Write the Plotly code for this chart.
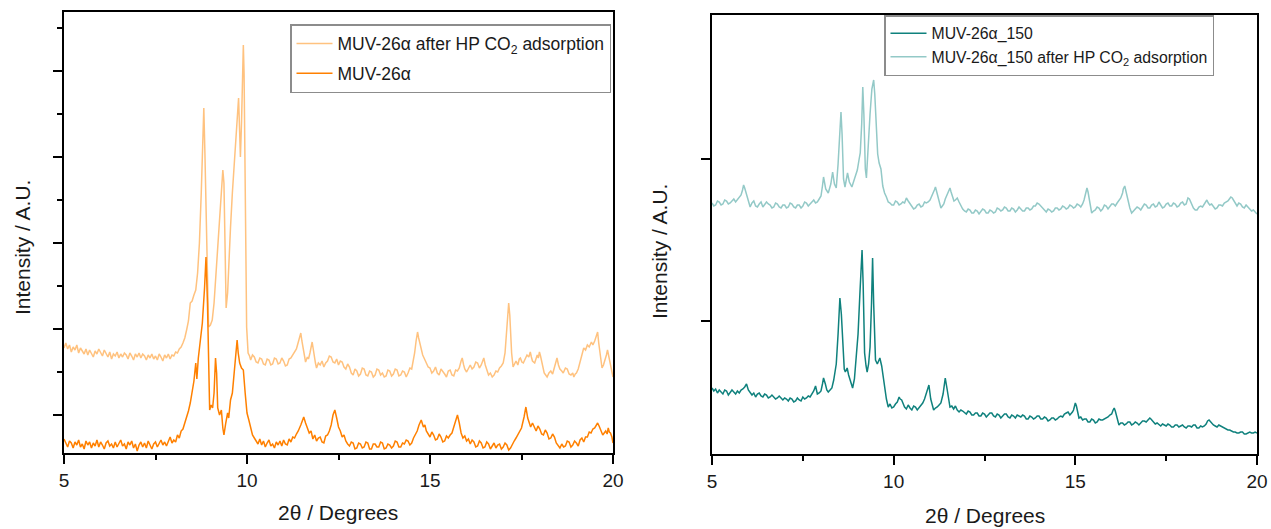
import plotly.graph_objects as go

# Diffraction patterns as (2θ in degrees, intensity in a.u.) pairs.

# MUV-26α
muv = [
    (5.00, 14), (5.05, 9), (5.10, 6), (5.15, 12), (5.20, 10), (5.25, 5), (5.30, 11), (5.35, 8), (5.40, 13),
    (5.45, 6), (5.50, 9), (5.55, 4), (5.60, 12), (5.65, 8), (5.70, 11), (5.75, 5), (5.80, 10), (5.85, 7),
    (5.90, 13), (5.95, 6), (6.00, 11), (6.05, 8), (6.10, 4), (6.15, 10), (6.20, 12), (6.25, 7), (6.30, 9),
    (6.35, 5), (6.40, 11), (6.45, 6), (6.50, 10), (6.55, 13), (6.60, 7), (6.65, 9), (6.70, 4), (6.75, 11),
    (6.80, 8), (6.85, 12), (6.90, 5), (6.95, 9), (7.00, 2), (7.05, 8), (7.10, 11), (7.15, 6), (7.20, 10),
    (7.25, 5), (7.30, 12), (7.35, 7), (7.40, 4), (7.45, 9), (7.50, 11), (7.55, 6), (7.60, 10), (7.65, 13),
    (7.70, 8), (7.75, 11), (7.80, 7), (7.85, 12), (7.90, 16), (7.95, 10), (8.00, 13), (8.05, 11), (8.10, 18),
    (8.15, 15), (8.20, 22), (8.25, 24), (8.30, 30), (8.35, 35), (8.40, 42), (8.45, 50), (8.50, 60), (8.55, 72),
    (8.60, 90), (8.63, 74), (8.67, 95), (8.72, 110), (8.78, 130), (8.84, 165), (8.88, 196), (8.92, 150),
    (8.95, 80), (8.98, 43), (9.02, 48), (9.06, 45), (9.10, 60), (9.14, 95), (9.17, 80), (9.20, 45), (9.25, 38),
    (9.30, 43), (9.34, 25), (9.37, 18), (9.42, 30), (9.47, 40), (9.50, 35), (9.55, 53), (9.60, 60), (9.65, 80),
    (9.70, 100), (9.73, 113), (9.76, 100), (9.80, 90), (9.85, 85), (9.90, 83), (9.95, 60), (10.00, 40),
    (10.05, 33), (10.10, 25), (10.15, 18), (10.20, 15), (10.25, 12), (10.30, 9), (10.35, 14), (10.40, 8),
    (10.45, 12), (10.50, 6), (10.55, 10), (10.60, 13), (10.65, 7), (10.70, 9), (10.75, 5), (10.80, 11),
    (10.85, 8), (10.90, 12), (10.95, 7), (11.00, 13), (11.05, 9), (11.10, 8), (11.15, 14), (11.20, 11),
    (11.25, 16), (11.30, 15), (11.35, 19), (11.40, 22), (11.47, 28), (11.55, 36), (11.60, 30), (11.65, 25),
    (11.70, 20), (11.75, 22), (11.80, 14), (11.85, 18), (11.90, 12), (11.95, 15), (12.00, 16), (12.05, 11),
    (12.10, 10), (12.15, 17), (12.20, 18), (12.25, 22), (12.30, 28), (12.35, 38), (12.40, 43), (12.45, 35),
    (12.50, 26), (12.55, 22), (12.60, 16), (12.65, 18), (12.70, 12), (12.75, 9), (12.80, 7), (12.85, 11),
    (12.90, 10), (12.95, 4), (13.00, 5), (13.05, 10), (13.10, 9), (13.15, 5), (13.20, 6), (13.25, 11),
    (13.30, 10), (13.35, 4), (13.40, 4), (13.45, 9), (13.50, 9), (13.55, 6), (13.60, 6), (13.65, 11),
    (13.70, 10), (13.75, 4), (13.80, 5), (13.85, 9), (13.90, 8), (13.95, 5), (14.00, 7), (14.05, 12),
    (14.10, 11), (14.15, 6), (14.20, 6), (14.25, 10), (14.30, 9), (14.35, 13), (14.40, 12), (14.45, 8),
    (14.50, 10), (14.55, 15), (14.60, 18), (14.65, 22), (14.70, 28), (14.76, 33), (14.82, 26), (14.86, 28),
    (14.90, 22), (14.95, 19), (15.00, 16), (15.05, 21), (15.10, 18), (15.15, 13), (15.20, 14), (15.25, 19),
    (15.30, 16), (15.35, 11), (15.40, 12), (15.45, 17), (15.50, 15), (15.55, 18), (15.60, 20), (15.65, 26),
    (15.70, 32), (15.75, 38), (15.80, 30), (15.85, 20), (15.90, 15), (15.95, 17), (16.00, 12), (16.05, 14),
    (16.10, 9), (16.15, 13), (16.20, 11), (16.25, 6), (16.30, 7), (16.35, 12), (16.40, 10), (16.45, 5),
    (16.50, 6), (16.55, 11), (16.60, 9), (16.65, 4), (16.70, 7), (16.75, 10), (16.80, 5), (16.85, 8),
    (16.90, 9), (16.95, 4), (17.00, 6), (17.05, 10), (17.10, 8), (17.15, 3), (17.20, 5), (17.25, 9),
    (17.30, 12), (17.35, 15), (17.40, 18), (17.45, 22), (17.50, 25), (17.57, 36), (17.62, 46), (17.67, 35),
    (17.72, 30), (17.75, 26), (17.80, 30), (17.85, 25), (17.90, 22), (17.95, 27), (18.00, 24), (18.05, 19),
    (18.10, 18), (18.15, 23), (18.20, 20), (18.25, 14), (18.30, 15), (18.35, 19), (18.40, 16), (18.45, 10),
    (18.50, 8), (18.55, 5), (18.60, 9), (18.65, 6), (18.70, 7), (18.75, 12), (18.80, 11), (18.85, 6),
    (18.90, 8), (18.95, 12), (19.00, 10), (19.05, 7), (19.10, 13), (19.15, 15), (19.20, 11), (19.25, 16),
    (19.30, 16), (19.35, 21), (19.40, 20), (19.45, 24), (19.50, 25), (19.55, 28), (19.58, 30), (19.62, 27),
    (19.65, 24), (19.70, 21), (19.72, 18), (19.76, 20), (19.80, 22), (19.84, 19), (19.87, 25), (19.90, 21),
    (19.93, 20), (19.97, 16), (20.00, 10),
]

# MUV-26α after HP CO2 adsorption
muv_co2 = [
    (5.00, 105), (5.05, 110), (5.10, 104), (5.15, 108), (5.20, 101), (5.25, 106), (5.30, 103), (5.35, 108),
    (5.40, 100), (5.45, 105), (5.50, 102), (5.55, 99), (5.60, 104), (5.65, 98), (5.70, 103), (5.75, 100),
    (5.80, 96), (5.85, 102), (5.90, 99), (5.95, 104), (6.00, 101), (6.05, 97), (6.10, 103), (6.15, 99),
    (6.20, 96), (6.25, 101), (6.30, 94), (6.35, 99), (6.40, 97), (6.45, 101), (6.50, 95), (6.55, 99),
    (6.60, 96), (6.65, 100), (6.70, 98), (6.75, 94), (6.80, 100), (6.85, 97), (6.90, 93), (6.95, 99),
    (7.00, 96), (7.05, 100), (7.10, 95), (7.15, 99), (7.20, 97), (7.25, 93), (7.30, 98), (7.35, 95),
    (7.40, 99), (7.45, 94), (7.50, 97), (7.55, 93), (7.60, 99), (7.65, 96), (7.70, 92), (7.75, 98),
    (7.80, 95), (7.85, 99), (7.90, 94), (7.95, 98), (8.00, 97), (8.05, 101), (8.10, 100), (8.15, 104),
    (8.20, 106), (8.25, 110), (8.30, 115), (8.35, 123), (8.40, 132), (8.45, 150), (8.50, 152), (8.55, 158),
    (8.60, 163), (8.65, 180), (8.70, 210), (8.75, 260), (8.80, 330), (8.82, 345), (8.85, 300), (8.88, 243),
    (8.92, 170), (8.95, 126), (9.00, 128), (9.05, 133), (9.10, 150), (9.15, 180), (9.20, 210), (9.25, 235),
    (9.30, 260), (9.34, 283), (9.37, 270), (9.40, 200), (9.43, 145), (9.47, 160), (9.50, 190), (9.55, 226),
    (9.60, 260), (9.66, 296), (9.70, 315), (9.72, 323), (9.75, 340), (9.77, 355), (9.80, 320), (9.82, 296),
    (9.85, 330), (9.88, 380), (9.90, 408), (9.92, 380), (9.95, 276), (9.97, 180), (9.99, 126), (10.03, 100),
    (10.07, 97), (10.10, 93), (10.15, 98), (10.20, 96), (10.25, 91), (10.30, 90), (10.35, 95), (10.40, 94),
    (10.45, 89), (10.50, 88), (10.55, 94), (10.60, 93), (10.65, 88), (10.70, 89), (10.75, 95), (10.80, 94),
    (10.85, 89), (10.90, 90), (10.95, 95), (11.00, 92), (11.05, 87), (11.10, 88), (11.15, 94), (11.20, 95),
    (11.25, 98), (11.30, 100), (11.35, 104), (11.38, 108), (11.43, 114), (11.47, 120), (11.50, 112),
    (11.53, 105), (11.57, 96), (11.60, 91), (11.65, 96), (11.68, 94), (11.72, 100), (11.75, 106),
    (11.78, 111), (11.81, 104), (11.83, 98), (11.87, 90), (11.90, 85), (11.95, 90), (12.00, 88), (12.05, 92),
    (12.10, 86), (12.15, 90), (12.20, 92), (12.25, 97), (12.30, 96), (12.35, 91), (12.40, 90), (12.45, 94),
    (12.50, 88), (12.55, 92), (12.60, 91), (12.65, 86), (12.70, 84), (12.75, 89), (12.80, 86), (12.85, 80),
    (12.90, 78), (12.95, 84), (13.00, 82), (13.05, 77), (13.10, 79), (13.15, 85), (13.20, 84), (13.25, 78),
    (13.30, 77), (13.35, 82), (13.40, 81), (13.45, 76), (13.50, 78), (13.55, 84), (13.60, 83), (13.65, 78),
    (13.70, 80), (13.75, 76), (13.80, 77), (13.85, 83), (13.90, 82), (13.95, 77), (14.00, 79), (14.05, 84),
    (14.10, 83), (14.15, 77), (14.20, 78), (14.25, 82), (14.30, 81), (14.35, 76), (14.40, 80), (14.45, 85),
    (14.50, 84), (14.55, 92), (14.58, 100), (14.62, 112), (14.66, 121), (14.69, 115), (14.72, 110),
    (14.76, 104), (14.80, 98), (14.85, 94), (14.90, 90), (14.95, 86), (15.00, 85), (15.05, 80), (15.10, 82),
    (15.15, 86), (15.20, 80), (15.25, 78), (15.30, 84), (15.35, 82), (15.40, 79), (15.45, 76), (15.50, 82),
    (15.55, 83), (15.60, 78), (15.65, 77), (15.70, 83), (15.75, 82), (15.80, 85), (15.85, 92), (15.88, 95),
    (15.92, 88), (15.95, 84), (16.00, 81), (16.05, 85), (16.10, 88), (16.15, 84), (16.20, 86), (16.25, 91),
    (16.30, 90), (16.35, 85), (16.40, 88), (16.44, 92), (16.47, 95), (16.51, 88), (16.55, 84), (16.60, 78),
    (16.65, 80), (16.70, 76), (16.75, 78), (16.80, 82), (16.85, 81), (16.90, 85), (16.95, 87), (17.00, 90),
    (17.05, 100), (17.10, 125), (17.13, 142), (17.15, 150), (17.18, 138), (17.20, 120), (17.23, 100),
    (17.27, 86), (17.31, 90), (17.35, 92), (17.40, 88), (17.44, 94), (17.47, 95), (17.51, 91), (17.55, 90),
    (17.60, 94), (17.65, 98), (17.70, 96), (17.74, 101), (17.77, 96), (17.80, 92), (17.86, 90), (17.90, 95),
    (17.93, 98), (17.96, 95), (17.99, 101), (18.02, 97), (18.05, 92), (18.09, 85), (18.12, 80), (18.16, 78),
    (18.20, 76), (18.25, 80), (18.30, 82), (18.35, 79), (18.40, 85), (18.44, 90), (18.47, 95), (18.51, 88),
    (18.55, 84), (18.60, 82), (18.64, 80), (18.70, 85), (18.75, 84), (18.80, 79), (18.85, 78), (18.90, 80),
    (18.93, 76), (18.97, 79), (19.00, 80), (19.05, 84), (19.10, 90), (19.15, 98), (19.20, 105), (19.25, 103),
    (19.30, 108), (19.35, 106), (19.41, 111), (19.45, 108), (19.50, 112), (19.54, 116), (19.58, 121),
    (19.61, 110), (19.64, 100), (19.67, 92), (19.70, 85), (19.74, 88), (19.78, 92), (19.82, 98), (19.85, 103),
    (19.88, 97), (19.92, 90), (19.96, 82), (20.00, 76),
]

# MUV-26α_150
m150 = [
    (5.00, 66), (5.05, 63), (5.10, 65), (5.15, 61), (5.20, 64), (5.25, 62), (5.30, 60), (5.35, 64), (5.40, 63),
    (5.45, 59), (5.50, 61), (5.55, 64), (5.60, 62), (5.65, 60), (5.70, 63), (5.75, 61), (5.80, 64), (5.85, 65),
    (5.90, 67), (5.95, 70), (6.00, 64), (6.05, 62), (6.10, 59), (6.15, 61), (6.20, 57), (6.25, 60), (6.30, 61),
    (6.35, 58), (6.40, 57), (6.45, 60), (6.50, 59), (6.55, 56), (6.60, 57), (6.65, 59), (6.70, 57), (6.75, 55),
    (6.80, 56), (6.85, 58), (6.90, 56), (6.95, 54), (7.00, 56), (7.05, 55), (7.10, 53), (7.15, 56), (7.20, 55),
    (7.25, 52), (7.30, 53), (7.35, 56), (7.40, 54), (7.45, 53), (7.50, 57), (7.55, 55), (7.60, 56), (7.65, 58),
    (7.70, 57), (7.75, 60), (7.80, 63), (7.85, 68), (7.90, 60), (7.95, 61), (8.00, 63), (8.04, 70), (8.07, 76),
    (8.12, 70), (8.16, 64), (8.20, 62), (8.25, 64), (8.30, 66), (8.35, 74), (8.42, 90), (8.47, 120),
    (8.52, 156), (8.56, 140), (8.60, 104), (8.64, 85), (8.67, 82), (8.72, 86), (8.76, 79), (8.82, 72),
    (8.87, 66), (8.92, 75), (8.97, 95), (9.02, 120), (9.07, 160), (9.10, 185), (9.13, 204), (9.16, 170),
    (9.20, 101), (9.24, 88), (9.27, 82), (9.31, 90), (9.35, 107), (9.39, 150), (9.42, 196), (9.45, 150),
    (9.50, 94), (9.55, 90), (9.62, 96), (9.67, 88), (9.72, 75), (9.75, 67), (9.80, 55), (9.85, 47), (9.90, 50),
    (9.95, 46), (10.00, 47), (10.05, 50), (10.10, 52), (10.15, 57), (10.18, 55), (10.22, 54), (10.26, 50),
    (10.30, 47), (10.35, 45), (10.40, 49), (10.45, 46), (10.50, 44), (10.55, 48), (10.60, 47), (10.65, 44),
    (10.70, 46), (10.75, 49), (10.80, 51), (10.85, 55), (10.92, 62), (10.97, 69), (11.02, 55), (11.06, 48),
    (11.10, 44), (11.15, 46), (11.20, 47), (11.25, 49), (11.30, 51), (11.36, 60), (11.42, 76), (11.47, 65),
    (11.51, 55), (11.55, 47), (11.60, 48), (11.65, 45), (11.70, 48), (11.75, 44), (11.80, 42), (11.85, 44),
    (11.90, 43), (11.95, 41), (12.00, 40), (12.05, 43), (12.10, 42), (12.15, 39), (12.20, 39), (12.25, 41),
    (12.30, 41), (12.35, 38), (12.40, 38), (12.45, 41), (12.50, 40), (12.55, 37), (12.60, 39), (12.65, 41),
    (12.70, 41), (12.75, 38), (12.80, 37), (12.85, 40), (12.90, 39), (12.95, 36), (13.00, 38), (13.05, 40),
    (13.10, 40), (13.15, 37), (13.20, 36), (13.25, 39), (13.30, 38), (13.35, 36), (13.40, 39), (13.45, 38),
    (13.50, 37), (13.55, 39), (13.60, 38), (13.65, 35), (13.70, 35), (13.75, 38), (13.80, 37), (13.85, 35),
    (13.90, 36), (13.95, 38), (14.00, 38), (14.05, 35), (14.10, 35), (14.15, 37), (14.20, 36), (14.25, 33),
    (14.30, 34), (14.35, 36), (14.40, 36), (14.45, 34), (14.50, 35), (14.55, 37), (14.60, 38), (14.65, 37),
    (14.70, 40), (14.75, 41), (14.80, 42), (14.85, 39), (14.88, 40), (14.92, 42), (14.95, 44), (15.00, 51),
    (15.03, 48), (15.05, 45), (15.10, 36), (15.15, 37), (15.20, 34), (15.25, 35), (15.30, 35), (15.35, 32),
    (15.40, 32), (15.45, 35), (15.50, 34), (15.55, 31), (15.60, 32), (15.65, 35), (15.70, 34), (15.75, 34),
    (15.80, 35), (15.85, 36), (15.90, 37), (15.95, 39), (16.00, 40), (16.04, 44), (16.07, 46), (16.10, 43),
    (16.12, 40), (16.16, 34), (16.20, 29), (16.25, 31), (16.30, 31), (16.35, 29), (16.40, 30), (16.45, 32),
    (16.50, 32), (16.55, 29), (16.60, 30), (16.65, 32), (16.70, 31), (16.75, 29), (16.80, 31), (16.85, 33),
    (16.90, 33), (16.95, 32), (17.00, 34), (17.05, 36), (17.08, 35), (17.12, 33), (17.16, 31), (17.20, 30),
    (17.25, 31), (17.30, 29), (17.35, 28), (17.40, 30), (17.45, 29), (17.50, 28), (17.55, 30), (17.60, 29),
    (17.65, 27), (17.70, 27), (17.75, 29), (17.80, 29), (17.85, 27), (17.90, 28), (17.95, 29), (18.00, 27),
    (18.05, 26), (18.10, 28), (18.15, 28), (18.20, 27), (18.25, 29), (18.30, 29), (18.35, 26), (18.40, 26),
    (18.45, 28), (18.50, 27), (18.55, 28), (18.60, 30), (18.64, 33), (18.68, 34), (18.72, 32), (18.75, 31),
    (18.80, 29), (18.85, 28), (18.90, 27), (18.95, 29), (19.00, 28), (19.05, 27), (19.10, 26), (19.15, 25),
    (19.20, 24), (19.25, 24), (19.30, 23), (19.35, 22), (19.40, 22), (19.45, 21), (19.50, 21), (19.55, 22),
    (19.60, 22), (19.65, 20), (19.70, 20), (19.75, 21), (19.80, 22), (19.85, 21), (19.90, 21), (19.95, 22),
    (20.00, 21),
]

# MUV-26α_150 after HP CO2 adsorption
m150_co2 = [
    (5.00, 251), (5.05, 248), (5.10, 249), (5.15, 253), (5.20, 252), (5.25, 249), (5.30, 250), (5.35, 254),
    (5.40, 253), (5.45, 250), (5.50, 251), (5.55, 253), (5.60, 255), (5.65, 252), (5.70, 254), (5.75, 256),
    (5.80, 259), (5.84, 264), (5.87, 269), (5.90, 266), (5.93, 262), (5.97, 255), (6.00, 252), (6.05, 247),
    (6.10, 251), (6.15, 253), (6.20, 248), (6.25, 247), (6.30, 250), (6.35, 252), (6.40, 247), (6.45, 249),
    (6.50, 252), (6.55, 250), (6.60, 249), (6.65, 246), (6.70, 247), (6.75, 251), (6.80, 250), (6.85, 247),
    (6.90, 246), (6.95, 249), (7.00, 249), (7.05, 246), (7.10, 247), (7.15, 251), (7.20, 250), (7.25, 247),
    (7.30, 246), (7.35, 249), (7.40, 249), (7.45, 246), (7.50, 248), (7.55, 252), (7.60, 251), (7.65, 248),
    (7.70, 250), (7.75, 253), (7.80, 254), (7.85, 251), (7.90, 252), (7.95, 255), (8.00, 258), (8.04, 268),
    (8.07, 277), (8.13, 265), (8.20, 261), (8.27, 270), (8.32, 282), (8.37, 270), (8.42, 266), (8.47, 290),
    (8.52, 330), (8.55, 342), (8.58, 320), (8.62, 275), (8.66, 267), (8.70, 276), (8.73, 281), (8.78, 272),
    (8.85, 267), (8.92, 275), (9.00, 284), (9.05, 295), (9.08, 301), (9.12, 330), (9.15, 367), (9.18, 340),
    (9.22, 285), (9.25, 276), (9.30, 311), (9.35, 340), (9.40, 365), (9.45, 374), (9.48, 360), (9.52, 331),
    (9.56, 300), (9.60, 291), (9.65, 285), (9.70, 268), (9.75, 261), (9.80, 257), (9.85, 252), (9.90, 251),
    (9.95, 249), (10.00, 249), (10.05, 253), (10.10, 252), (10.15, 249), (10.20, 250), (10.25, 252),
    (10.30, 251), (10.35, 256), (10.40, 253), (10.45, 250), (10.50, 248), (10.55, 245), (10.60, 246),
    (10.65, 249), (10.70, 250), (10.75, 247), (10.80, 248), (10.85, 252), (10.90, 251), (10.95, 252),
    (11.00, 254), (11.04, 257), (11.08, 260), (11.12, 264), (11.15, 267), (11.18, 263), (11.22, 258),
    (11.26, 251), (11.30, 246), (11.34, 248), (11.38, 250), (11.42, 255), (11.45, 258), (11.50, 262),
    (11.55, 266), (11.58, 262), (11.62, 258), (11.66, 253), (11.70, 254), (11.75, 256), (11.80, 252),
    (11.85, 248), (11.90, 245), (11.95, 243), (12.00, 242), (12.05, 245), (12.10, 244), (12.15, 241),
    (12.20, 241), (12.25, 244), (12.30, 243), (12.35, 240), (12.40, 242), (12.45, 245), (12.50, 244),
    (12.55, 241), (12.60, 241), (12.65, 244), (12.70, 243), (12.75, 241), (12.80, 242), (12.85, 246),
    (12.90, 245), (12.95, 243), (13.00, 244), (13.05, 247), (13.10, 246), (13.15, 243), (13.20, 243),
    (13.25, 246), (13.30, 245), (13.35, 242), (13.40, 244), (13.45, 247), (13.50, 245), (13.55, 243),
    (13.60, 243), (13.65, 246), (13.70, 246), (13.75, 244), (13.80, 245), (13.85, 248), (13.90, 248),
    (13.95, 251), (14.00, 250), (14.05, 248), (14.10, 246), (14.15, 243), (14.20, 242), (14.25, 245),
    (14.30, 244), (14.35, 242), (14.40, 243), (14.45, 246), (14.50, 246), (14.55, 244), (14.60, 245),
    (14.65, 248), (14.70, 247), (14.75, 245), (14.80, 246), (14.85, 249), (14.90, 248), (14.95, 246),
    (15.00, 247), (15.05, 250), (15.10, 249), (15.15, 247), (15.20, 250), (15.24, 254), (15.27, 258),
    (15.32, 266), (15.35, 262), (15.38, 255), (15.42, 247), (15.45, 241), (15.50, 243), (15.55, 244),
    (15.60, 247), (15.65, 246), (15.70, 243), (15.75, 245), (15.80, 249), (15.85, 248), (15.90, 245),
    (15.95, 247), (16.00, 250), (16.05, 250), (16.10, 248), (16.15, 251), (16.20, 254), (16.25, 256),
    (16.30, 261), (16.32, 265), (16.36, 268), (16.39, 263), (16.42, 258), (16.46, 251), (16.50, 246),
    (16.55, 241), (16.60, 243), (16.65, 244), (16.70, 247), (16.75, 246), (16.80, 244), (16.85, 247),
    (16.90, 250), (16.95, 249), (17.00, 246), (17.05, 246), (17.10, 249), (17.15, 250), (17.20, 247),
    (17.25, 248), (17.30, 252), (17.35, 249), (17.40, 246), (17.45, 247), (17.50, 250), (17.55, 251),
    (17.60, 248), (17.65, 248), (17.70, 251), (17.75, 250), (17.80, 247), (17.85, 248), (17.90, 251),
    (17.95, 252), (18.00, 249), (18.05, 250), (18.10, 256), (18.14, 255), (18.17, 252), (18.21, 249),
    (18.25, 246), (18.30, 244), (18.35, 244), (18.40, 247), (18.45, 248), (18.50, 247), (18.55, 250),
    (18.58, 252), (18.62, 254), (18.66, 251), (18.70, 249), (18.75, 250), (18.80, 247), (18.85, 245),
    (18.90, 246), (18.95, 249), (19.00, 249), (19.05, 248), (19.10, 251), (19.15, 252), (19.20, 253),
    (19.24, 255), (19.28, 257), (19.32, 256), (19.35, 254), (19.40, 250), (19.45, 248), (19.50, 251),
    (19.55, 250), (19.60, 247), (19.65, 246), (19.70, 249), (19.75, 247), (19.80, 245), (19.85, 243),
    (19.90, 244), (19.95, 242), (20.00, 240),
]

FONT = "Liberation Sans, Arial, sans-serif"
TXT = "#1a1a1a"
W, H = 1271, 529


def series(points, name, color, group, xaxis, yaxis, legend):
    xs = [p[0] for p in points]
    ys = [p[1] for p in points]
    return go.Scatter(x=xs, y=ys, mode="lines", name=name, legendgroup=group,
                      line=dict(color=color, width=1.5),
                      xaxis=xaxis, yaxis=yaxis, legend=legend)


fig = go.Figure()
fig.add_trace(series(muv_co2, "MUV-26α after HP CO<sub>2</sub> adsorption", "#FFC27F", "a1", "x", "y", "legend"))
fig.add_trace(series(muv, "MUV-26α", "#FF8000", "a2", "x", "y", "legend"))
fig.add_trace(series(m150, "MUV-26α_150", "#0F817D", "b1", "x2", "y2", "legend2"))
fig.add_trace(series(m150_co2, "MUV-26α_150 after HP CO<sub>2</sub> adsorption", "#93C9C7", "b2",
                     "x2", "y2", "legend2"))


def xa(domain, anchor):
    return dict(domain=domain, anchor=anchor, range=[5, 20], tickvals=[5, 10, 15, 20],
                ticks="outside", ticklen=9, tickwidth=1.5, tickcolor="black",
                minor=dict(dtick=2.5, tick0=5, ticks="outside", ticklen=5, tickwidth=1.5, tickcolor="black"),
                showline=True, linecolor="black", linewidth=2, mirror=True,
                showgrid=False, zeroline=False, automargin=False,
                tickfont=dict(family=FONT, size=19, color=TXT))


def title(text, x, y, angle=0):
    return dict(text=text, x=x / W, y=(H - y) / H, xref="paper", yref="paper",
                xanchor="center", yanchor="middle", textangle=angle, showarrow=False,
                font=dict(family=FONT, size=21, color=TXT))


fig.update_layout(
    width=W, height=H,
    margin=dict(l=0, r=0, t=0, b=0, autoexpand=False),
    paper_bgcolor="white", plot_bgcolor="white",
    font=dict(family=FONT, color=TXT),
    xaxis=xa([64 / W, 613 / W], "y"),
    xaxis2=xa([712 / W, 1257 / W], "y2"),
    yaxis=dict(domain=[(H - 453) / H, (H - 12) / H], anchor="x", range=[0, 441],
               tick0=38, dtick=86, ticks="outside", ticklen=9, tickwidth=1.5, tickcolor="black",
               minor=dict(tick0=38, dtick=43, ticks="outside", ticklen=5, tickwidth=1.5, tickcolor="black"),
               showticklabels=False, showline=True, linecolor="black", linewidth=2, mirror=True,
               showgrid=False, zeroline=False, automargin=False),
    yaxis2=dict(domain=[(H - 454) / H, (H - 15) / H], anchor="x2", range=[0, 439],
                tick0=133, dtick=162, ticks="outside", ticklen=9, tickwidth=1.5, tickcolor="black",
                showticklabels=False, showline=True, linecolor="black", linewidth=2, mirror=True,
                showgrid=False, zeroline=False, automargin=False),
    legend=dict(x=611 / W, y=(H - 24) / H, xanchor="right", yanchor="top",
                bgcolor="white", bordercolor="#8c8c8c", borderwidth=1.5,
                font=dict(family=FONT, size=17.5, color=TXT), itemwidth=36,
                traceorder="grouped", tracegroupgap=4),
    legend2=dict(x=1214 / W, y=(H - 15) / H, xanchor="right", yanchor="top",
                 bgcolor="white", bordercolor="#8c8c8c", borderwidth=1.5,
                 font=dict(family=FONT, size=15.8, color=TXT), itemwidth=36,
                 traceorder="grouped", tracegroupgap=0),
    annotations=[
        title("2θ / Degrees", 338, 512),
        title("2θ / Degrees", 985, 515),
        title("Intensity / A.U.", 22, 248, -90),
        title("Intensity / A.U.", 659, 251, -90),
    ],
)

fig.write_html("out.html")
